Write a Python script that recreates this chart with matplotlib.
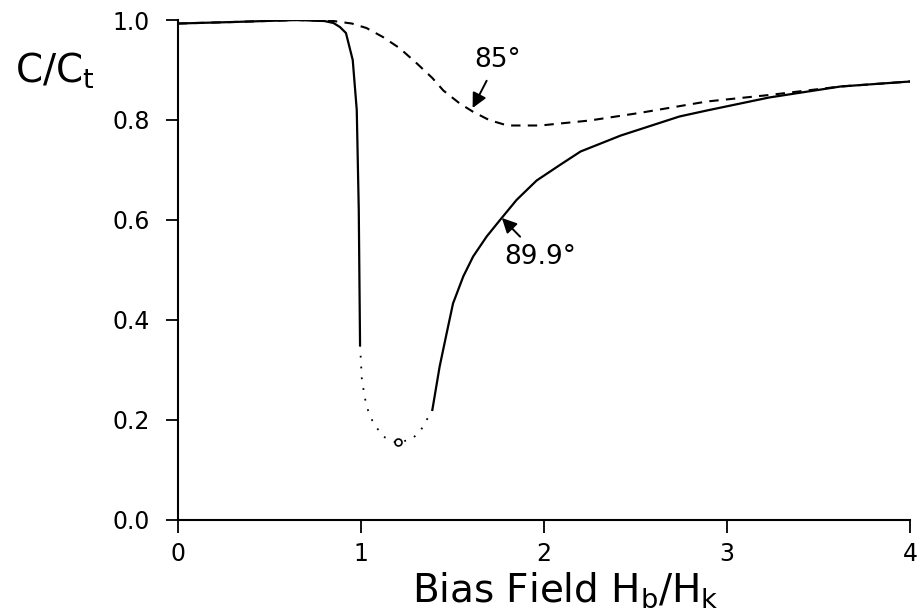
import numpy as np
import matplotlib
matplotlib.use("Agg")
import matplotlib.pyplot as plt

plt.rcParams['font.family'] = ['DejaVu Sans']
plt.rcParams['mathtext.fontset'] = 'dejavusans'

# 89.9 deg curve, solid part before the jump
x_a = [0.0, 0.3, 0.65, 0.80, 0.85, 0.885, 0.918, 0.955, 0.977, 0.988, 0.995]
y_a = [0.993, 0.996, 1.0, 0.998, 0.994, 0.986, 0.974, 0.92, 0.82, 0.62, 0.35]

# 89.9 deg curve, dotted (unstable) part
x_b = [0.995, 1.005, 1.03, 1.066, 1.12, 1.19, 1.27, 1.32, 1.39]
y_b = [0.35, 0.28, 0.227, 0.195, 0.167, 0.155, 0.16, 0.175, 0.22]

# 89.9 deg curve, solid part after the minimum
x_c = [1.39, 1.43, 1.468, 1.503, 1.559, 1.613, 1.687, 1.76, 1.85, 1.96, 2.087,
       2.20, 2.42, 2.74, 2.89, 3.23, 3.62, 4.0]
y_c = [0.22, 0.307, 0.373, 0.433, 0.487, 0.527, 0.567, 0.60, 0.64, 0.679, 0.71,
       0.737, 0.769, 0.807, 0.819, 0.845, 0.867, 0.877]

# 85 deg curve (dashed)
x_d = [0.0, 0.3, 0.65, 0.85, 0.95, 1.03, 1.12, 1.21, 1.30, 1.39, 1.45, 1.54, 1.61,
       1.70, 1.80, 1.98, 2.25, 2.52, 2.89, 3.23, 3.62, 4.0]
y_d = [0.993, 0.996, 1.0, 0.998, 0.993, 0.984, 0.966, 0.944, 0.915, 0.884, 0.859,
       0.833, 0.817, 0.800, 0.789, 0.789, 0.799, 0.814, 0.837, 0.85, 0.867, 0.877]

x_min, y_min = 1.2, 0.155

fig = plt.figure(figsize=(9.22, 6.16), dpi=100)
ax = fig.add_axes([0.193, 0.156, 0.794, 0.8115])

ax.plot(x_a, y_a, color='black', lw=1.6)
ax.plot(x_b, y_b, color='black', lw=1.3, linestyle=(0, (1, 5)))
ax.plot(x_c, y_c, color='black', lw=1.6)
ax.plot(x_d, y_d, color='black', lw=1.5, linestyle=(0, (4.5, 3.5)))
ax.plot([x_min], [y_min], marker='o', ms=5, mfc='white', mec='black', mew=1.2)

ax.annotate("85°", xy=(1.61, 0.824), xytext=(1.745, 0.92), fontsize=19,
            ha='center', va='center',
            arrowprops=dict(arrowstyle='-|>', color='black', lw=1.4,
                            mutation_scale=22, shrinkA=4, shrinkB=0))
ax.annotate("89.9°", xy=(1.77, 0.604), xytext=(1.98, 0.525), fontsize=19,
            ha='center', va='center',
            arrowprops=dict(arrowstyle='-|>', color='black', lw=1.4,
                            mutation_scale=22, shrinkA=5, shrinkB=0))

ax.set_xlim(0, 4)
ax.set_ylim(0, 1.0)
ax.set_xticks([0, 1, 2, 3, 4])
ax.set_yticks([0.0, 0.2, 0.4, 0.6, 0.8, 1.0])
ax.set_yticklabels(["0.0", "0.2", "0.4", "0.6", "0.8", "1.0"])

for s in ['top', 'right']:
    ax.spines[s].set_visible(False)
for s in ['left', 'bottom']:
    ax.spines[s].set_linewidth(1.5)

ax.tick_params(axis='both', direction='out', length=9, width=1.3, labelsize=17)
ax.tick_params(axis='y', pad=11)
ax.tick_params(axis='x', pad=7)

ax.set_xlabel(r"Bias Field H$_\mathregular{b}$/H$_\mathregular{k}$", fontsize=28,
              va='baseline')
ax.xaxis.set_label_coords(0.529, -0.163)
ax.set_ylabel(r"C/C$_\mathregular{t}$", fontsize=28, rotation=0, ha='center',
              va='baseline')
ax.yaxis.set_label_coords(-0.168, 0.874)

fig.savefig("out.png", dpi=100)
